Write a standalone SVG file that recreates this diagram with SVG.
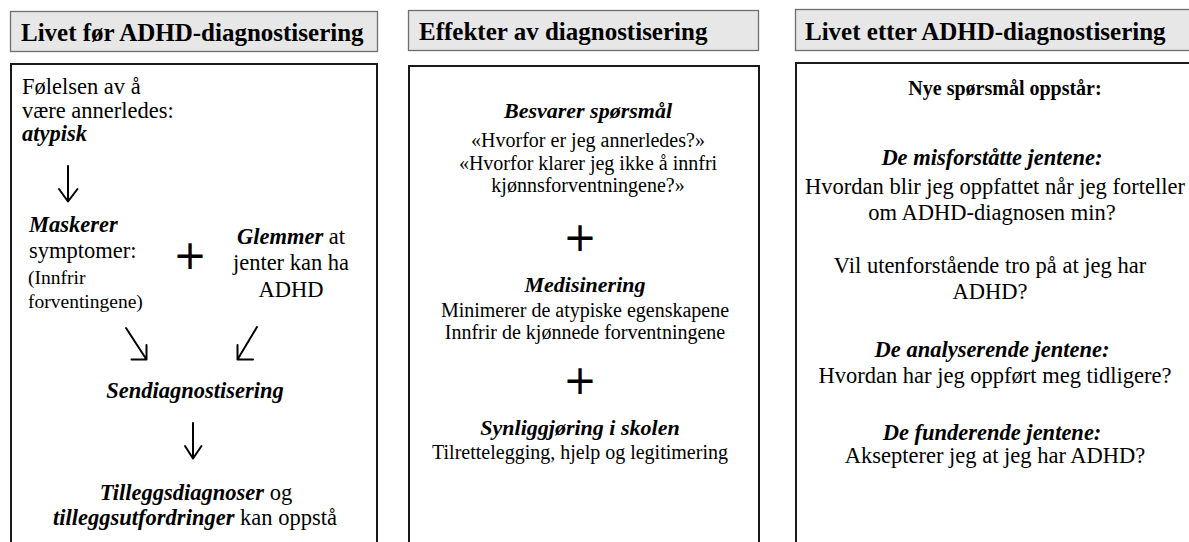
<svg xmlns="http://www.w3.org/2000/svg" width="1189" height="542" viewBox="0 0 1189 542" font-family="'Liberation Serif', Tinos, 'Times New Roman', Times, serif">
<style>
  text { font-family: 'Liberation Serif', Tinos, 'Times New Roman', Times, serif; fill: #000; }
  .hdr-box { fill: #e7e7e7; stroke: #6e6e6e; stroke-width: 1.3; }
  .body-box { fill: #fff; stroke: #1a1a1a; stroke-width: 2; }
  .hdr { font-size: 25px; font-weight: bold; }
  .bi { font-weight: bold; font-style: italic; }
  .b { font-weight: bold; }
  .c1 { font-size: 22.5px; }
  .small { font-size: 19.5px; }
  .c2 { font-size: 20px; }
  .c2h { font-size: 22px; }
  .c3 { font-size: 22.5px; }
  .mid { text-anchor: middle; }
  text.plus { font-family: 'DejaVu Sans', sans-serif; font-size: 40px; text-anchor: middle; }
  .arrow { fill: none; stroke: #000; stroke-width: 2; stroke-linecap: round; stroke-linejoin: round; }
</style>
<rect width="1189" height="542" fill="#fff"/>

<g id="col1">
  <rect class="hdr-box" x="10.5" y="11.5" width="367" height="40"/>
  <text class="hdr" x="21" y="41">Livet før ADHD-diagnostisering</text>
  <rect class="body-box" x="11" y="64" width="366" height="500"/>
</g>

<g id="col2">
  <rect class="hdr-box" x="408.5" y="10.5" width="350" height="40"/>
  <text class="hdr" x="419" y="40">Effekter av diagnostisering</text>
  <rect class="body-box" x="409" y="66" width="350" height="500"/>
</g>

<g id="col3">
  <rect class="hdr-box" x="795.5" y="9.5" width="420" height="41"/>
  <text class="hdr" x="805" y="40">Livet etter ADHD-diagnostisering</text>
  <rect class="body-box" x="796" y="63" width="420" height="500"/>
</g>

<g id="n-atypisk">
  <text class="c1" x="22" y="94">Følelsen av å</text>
  <text class="c1" x="22" y="118">være annerledes:</text>
  <text class="c1 bi" x="22" y="141">atypisk</text>
</g>

<g id="n-maskerer">
  <text class="c1 bi" x="29" y="232">Maskerer</text>
  <text class="c1" x="29" y="258">symptomer:</text>
  <text class="small" x="28" y="284">(Innfrir</text>
  <text class="small" x="28" y="308">forventingene)</text>
</g>

<g id="n-plus1">
  <text class="plus" x="190" y="269">+</text>
</g>

<g id="n-glemmer">
  <text class="c1 mid" x="291" y="244"><tspan class="bi">Glemmer</tspan> at</text>
  <text class="c1 mid" x="291" y="270">jenter kan ha</text>
  <text class="c1 mid" x="291" y="297">ADHD</text>
</g>

<g id="n-sendiag">
  <text class="c1 bi mid" x="195" y="398">Sendiagnostisering</text>
</g>

<g id="n-tillegg">
  <text class="c1 mid" x="196" y="500"><tspan class="bi">Tilleggsdiagnoser</tspan> og</text>
  <text class="c1 mid" x="195" y="525"><tspan class="bi">tilleggsutfordringer</tspan> kan oppstå</text>
</g>

<g id="n-besvarer">
  <text class="c2h bi mid" x="588" y="118">Besvarer spørsmål</text>
  <text class="c2 mid" x="588" y="147">«Hvorfor er jeg annerledes?»</text>
  <text class="c2 mid" x="588" y="170">«Hvorfor klarer jeg ikke å innfri</text>
  <text class="c2 mid" x="588" y="192">kjønnsforventningene?»</text>
</g>

<g id="n-plus2">
  <text class="plus" x="580" y="251">+</text>
</g>

<g id="n-medisinering">
  <text class="c2h bi mid" x="585" y="292">Medisinering</text>
  <text class="c2 mid" x="585" y="317">Minimerer de atypiske egenskapene</text>
  <text class="c2 mid" x="585" y="339">Innfrir de kjønnede forventningene</text>
</g>

<g id="n-plus3">
  <text class="plus" x="580" y="394">+</text>
</g>

<g id="n-synlig">
  <text class="c2h bi mid" x="580" y="435">Synliggjøring i skolen</text>
  <text class="c2 mid" x="580" y="459">Tilrettelegging, hjelp og legitimering</text>
</g>

<g id="n-nye">
  <text class="b mid" style="font-size:20px" x="1005" y="95">Nye spørsmål oppstår:</text>
</g>

<g id="n-misforstatte">
  <text class="c3 bi mid" x="992" y="165">De misforståtte jentene:</text>
  <text class="c3 mid" x="995" y="194">Hvordan blir jeg oppfattet når jeg forteller</text>
  <text class="c3 mid" x="992" y="220">om ADHD-diagnosen min?</text>
  <text class="c3 mid" x="990" y="273">Vil utenforstående tro på at jeg har</text>
  <text class="c3 mid" x="990" y="299">ADHD?</text>
</g>

<g id="n-analyserende">
  <text class="c3 bi mid" x="992" y="357">De analyserende jentene:</text>
  <text class="c3 mid" x="995" y="383">Hvordan har jeg oppført meg tidligere?</text>
</g>

<g id="n-funderende">
  <text class="c3 bi mid" x="992" y="440">De funderende jentene:</text>
  <text class="c3 mid" x="995" y="463">Aksepterer jeg at jeg har ADHD?</text>
</g>

<g id="connectors">
  <path class="arrow" d="M68,166 L68,201 M59,189 L68,201.5 L77.5,189"/>
  <path class="arrow" d="M126,328 L146.5,359.5 M131.5,359.5 L146.5,359.5 L146.5,345"/>
  <path class="arrow" d="M257,327 L237.5,359.5 M237.5,345 L237.5,359.5 L253,359.5"/>
  <path class="arrow" d="M193,423 L193,458 M185,446 L193,458.5 L201.5,446"/>
</g>
</svg>
